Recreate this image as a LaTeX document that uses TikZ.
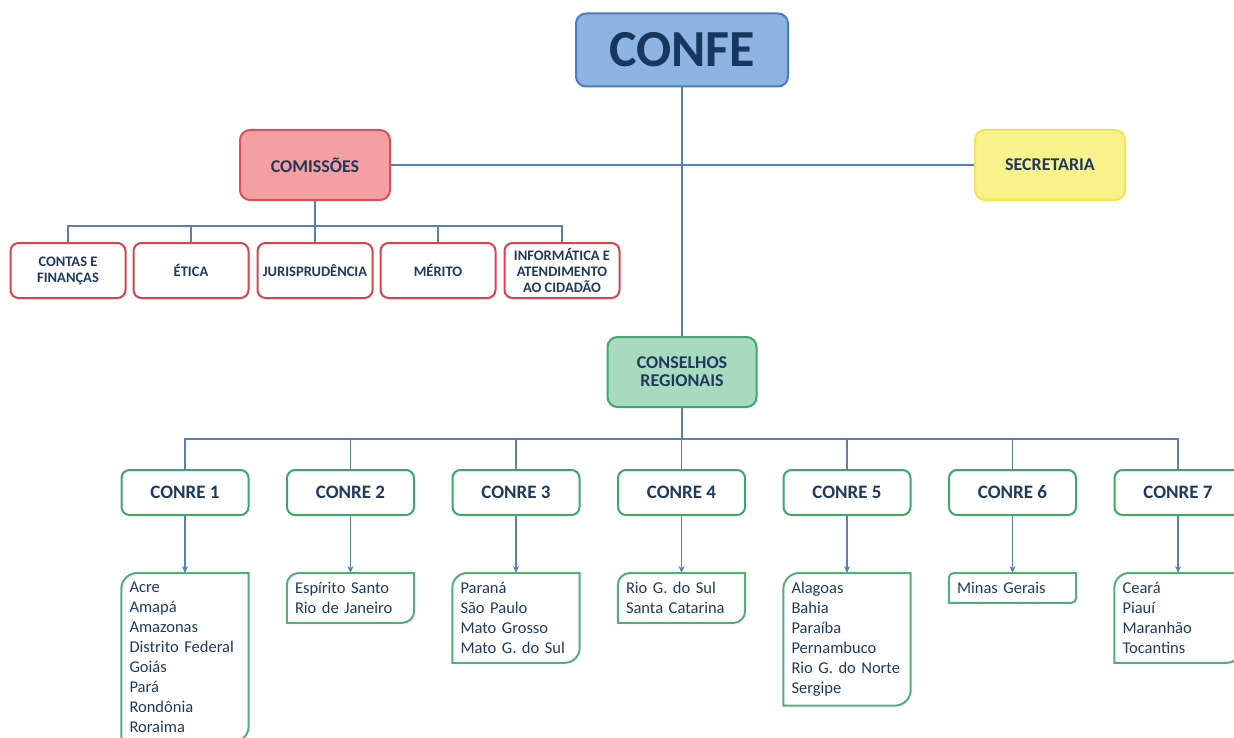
\documentclass[tikz,border=0pt]{standalone}
\usepackage{fontspec}
\setmainfont{Carlito}
\usetikzlibrary{shapes,arrows.meta,positioning}
\definecolor{linkblue}{HTML}{5A7FB8}
\definecolor{navy}{HTML}{1F3A5F}
\definecolor{confefill}{HTML}{8DB4E3}
\definecolor{confeline}{HTML}{4A7EBB}
\definecolor{confetext}{HTML}{17375E}
\definecolor{comisfill}{HTML}{F4A0A3}
\definecolor{comisline}{HTML}{DB4F5A}
\definecolor{childline}{HTML}{D9434E}
\definecolor{secfill}{HTML}{F8F18C}
\definecolor{secline}{HTML}{F1E64F}
\definecolor{conselfill}{HTML}{A8DAC0}
\definecolor{conselline}{HTML}{3DA86A}
\definecolor{stline}{HTML}{55AD79}

\begin{document}
\begin{tikzpicture}[x=1pt,y=-1pt,
	link/.style={linkblue, line width=1.5pt},
	arr/.style={linkblue, line width=1.5pt, -{Stealth[length=7pt,width=6pt]}},
	box/.style={rounded corners=10pt, line width=2pt, align=center, text=navy, inner sep=0pt,
		font=\bfseries\fontsize{18}{18}\selectfont},
	topbox/.style={box, draw=confeline, fill=confefill, minimum width=212pt, minimum height=73pt,
		text=confetext, font=\bfseries\fontsize{52}{52}\selectfont},
	comisbox/.style={box, draw=comisline, fill=comisfill, minimum width=150pt, minimum height=70pt},
	secbox/.style={box, draw=secline, fill=secfill, minimum width=150pt, minimum height=70pt},
	conselbox/.style={box, draw=conselline, fill=conselfill, minimum width=149pt, minimum height=70pt},
	childbox/.style={box, rounded corners=8pt, draw=childline, fill=white, minimum width=115pt, minimum height=55pt,
		font=\bfseries\fontsize{14.5}{16}\selectfont},
	conre/.style={box, rounded corners=8pt, draw=conselline, fill=white, minimum width=127pt, minimum height=45pt,
		font=\bfseries\fontsize{19}{19}\selectfont},
	states/.style={anchor=north, text width=111pt, inner xsep=8pt, inner ysep=9pt, align=left, text=navy,
		font=\fontsize{16.5}{20}\selectfont},
	stedge/.style={stline, line width=2pt}]
	\useasboundingbox (0,0) rectangle (1234,738);

	% top levels
	\node[topbox] (confe) at (682,50) {CONFE};
	\node[comisbox] (comis) at (315,165) {COMISSÕES};
	\node[secbox] (secr) at (1050,165) {SECRETARIA};
	\node[conselbox] (consel) at (682,372) {CONSELHOS\\REGIONAIS};

	\draw[link] (confe.south) -- (consel.north);
	\draw[link] (comis.east) -- (secr.west);

	% commissions
	\foreach \x/\n/\t in {68/c1/{CONTAS E\\FINANÇAS}, 191/c2/{ÉTICA}, 315/c3/{JURISPRUDÊNCIA},
		438/c4/{MÉRITO}, 562/c5/{INFORMÁTICA E\\ATENDIMENTO\\AO CIDADÃO}}{
		\node[childbox] (\n) at (\x,270.5) {\t};
		\draw[link] (comis.south) -- ++(0,25) -| (\n.north);
	}

	% regional councils
	\foreach \i in {1,...,7}{
		\node[conre] (r\i) at ({185+165.5*(\i-1)},492.5) {CONRE \i};
		\draw[link] (consel.south) -- ++(0,31) -| (r\i.north);
	}

	\foreach \i/\list in {1/{Acre\\Amapá\\Amazonas\\Distrito Federal\\Goiás\\Pará\\Rondônia\\Roraima},
		2/{Espírito Santo\\Rio de Janeiro},
		3/{Paraná\\São Paulo\\Mato Grosso\\Mato G. do Sul},
		4/{Rio G. do Sul\\Santa Catarina},
		5/{Alagoas\\Bahia\\Paraíba\\Pernambuco\\Rio G. do Norte\\Sergipe},
		6/{Minas Gerais},
		7/{Ceará\\Piauí\\Maranhão\\Tocantins}}{
		\node[states] (s\i) at ({185+165.5*(\i-1)},573) {\list};
		\draw[arr] (r\i.south) -- (s\i.north);
	}

	% state boxes: top left and bottom right rounded
	\foreach \i/\rad in {1/16,2/12,3/15,4/12,5/16,6/5,7/15}
		\draw[stedge] (s\i.north east) -- ([xshift=\rad pt]s\i.north west)
			arc[start angle=90,end angle=180,radius=\rad pt] -- (s\i.south west)
			-- ([xshift=-\rad pt]s\i.south east) arc[start angle=270,end angle=360,radius=\rad pt] -- cycle;
\end{tikzpicture}
\end{document}
